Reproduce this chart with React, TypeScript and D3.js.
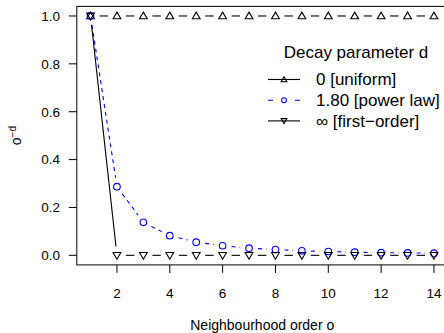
import React, { useEffect, useRef } from 'react';
import * as d3 from 'd3';

// neighbourhood orders o = 1..14
const orders = [1, 2, 3, 4, 5, 6, 7, 8, 9, 10, 11, 12, 13, 14];
// weights o^-d for the three decay settings
const uniformVals = [1, 1, 1, 1, 1, 1, 1, 1, 1, 1, 1, 1, 1, 1];
const powerVals = [1, 0.287, 0.138, 0.082, 0.055, 0.04, 0.03, 0.024, 0.019, 0.016, 0.013, 0.011, 0.01, 0.009];
const firstVals = [1, 0, 0, 0, 0, 0, 0, 0, 0, 0, 0, 0, 0, 0];

const xTicks = [2, 4, 6, 8, 10, 12, 14];
const yTicks = [0, 0.2, 0.4, 0.6, 0.8, 1.0];
const legendLabels = ['0 [uniform]', '1.80 [power law]', '\u221E [first\u2212order]'];

const FONT = '"Liberation Sans", Arial, Helvetica, sans-serif';

const App = () => {
  const ref = useRef<SVGSVGElement>(null);

  useEffect(() => {
    if (!ref.current) return;
    const width = 444;
    const height = 333;
    const svg = d3.select(ref.current);
    svg.selectAll('*').remove();
    svg.attr('width', width).attr('height', height);

    // R style 4% padding on both axes
    const x = d3.scaleLinear().domain([0.48, 14.52]).range([76.8, 447.7]);
    const y = d3.scaleLinear().domain([-0.04, 1.04]).range([264.9, 6.4]);

    const g = svg.append('g');

    // box
    g.append('rect')
      .attr('x', x(0.48)).attr('y', y(1.04))
      .attr('width', x(14.52) - x(0.48)).attr('height', y(-0.04) - y(1.04))
      .attr('fill', 'none').attr('stroke', 'black').attr('stroke-width', 1);

    // x axis
    xTicks.forEach(t => {
      g.append('line')
        .attr('x1', x(t)).attr('x2', x(t))
        .attr('y1', y(-0.04)).attr('y2', y(-0.04) + 8)
        .attr('stroke', 'black');
      g.append('text')
        .attr('x', x(t)).attr('y', 297.5)
        .attr('text-anchor', 'middle')
        .style('font-family', FONT).style('font-size', '13.5px')
        .text(t);
    });

    // y axis
    yTicks.forEach(t => {
      g.append('line')
        .attr('x1', x(0.48) - 8).attr('x2', x(0.48))
        .attr('y1', y(t)).attr('y2', y(t))
        .attr('stroke', 'black');
      g.append('text')
        .attr('x', 60).attr('y', y(t) + 4.8)
        .attr('text-anchor', 'end')
        .style('font-family', FONT).style('font-size', '13.5px')
        .text(t.toFixed(1));
    });

    // axis titles
    g.append('text')
      .attr('x', (x(0.48) + x(14.52)) / 2).attr('y', 330)
      .attr('text-anchor', 'middle')
      .style('font-family', FONT).style('font-size', '14px')
      .text('Neighbourhood order o');

    const yl = g.append('text')
      .attr('transform', `translate(21,${(y(1.04) + y(-0.04)) / 2}) rotate(-90)`)
      .attr('text-anchor', 'middle')
      .style('font-family', FONT).style('font-size', '14px');
    yl.append('tspan').text('o');
    yl.append('tspan').attr('dy', -5).style('font-size', '10px').text('\u2212d');

    // lines with gaps around points (type = "b")
    const gap = 9;
    const drawB = (vals: number[], color: string, dash: string | null) => {
      for (let i = 0; i < orders.length - 1; i++) {
        const x0 = x(orders[i]), y0 = y(vals[i]);
        const x1 = x(orders[i + 1]), y1 = y(vals[i + 1]);
        const len = Math.hypot(x1 - x0, y1 - y0);
        if (len <= 2 * gap) continue;
        const ux = (x1 - x0) / len, uy = (y1 - y0) / len;
        const seg = g.append('line')
          .attr('x1', x0 + ux * gap).attr('y1', y0 + uy * gap)
          .attr('x2', x1 - ux * gap).attr('y2', y1 - uy * gap)
          .attr('stroke', color).attr('stroke-width', 1.1);
        if (dash) seg.attr('stroke-dasharray', dash);
      }
    };

    const drawTri = (sel: any, cx: number, cy: number, down: boolean, size = 26) => {
      sel.append('path')
        .attr('d', d3.symbol().type(d3.symbolTriangle).size(size)())
        .attr('transform', `translate(${cx},${cy + (down ? -0.6 : 0.6)}) rotate(${down ? 180 : 0})`)
        .attr('fill', 'none').attr('stroke', 'black').attr('stroke-width', 1.1);
    };
    const drawCircle = (sel: any, cx: number, cy: number, r = 3.3) => {
      sel.append('circle')
        .attr('cx', cx).attr('cy', cy).attr('r', r)
        .attr('fill', 'none').attr('stroke', '#0000FF').attr('stroke-width', 1.1);
    };

    drawB(uniformVals, 'black', null);
    drawB(powerVals, '#0000FF', '4,4');
    drawB(firstVals, 'black', null);

    orders.forEach((o, i) => drawTri(g, x(o), y(uniformVals[i]), false));
    orders.forEach((o, i) => drawCircle(g, x(o), y(powerVals[i])));
    orders.forEach((o, i) => drawTri(g, x(o), y(firstVals[i]), true));

    // legend
    const lg = svg.append('g');
    lg.append('text')
      .attr('x', 356).attr('y', 58.3)
      .attr('text-anchor', 'middle')
      .style('font-family', FONT).style('font-size', '17px')
      .text('Decay parameter d');

    const rowY = [79.5, 100.2, 120.9];
    legendLabels.forEach((lab, i) => {
      const cy = rowY[i];
      const ln = lg.append('line')
        .attr('x1', 268).attr('x2', 300).attr('y1', cy).attr('y2', cy)
        .attr('stroke', i === 1 ? '#0000FF' : 'black').attr('stroke-width', 1.1);
      if (i === 1) ln.attr('stroke-dasharray', '5,22,5');
      if (i === 0) drawTri(lg, 284, cy, false, 14);
      if (i === 1) drawCircle(lg, 284, cy, 2.4);
      if (i === 2) drawTri(lg, 284, cy, true, 14);
      lg.append('text')
        .attr('x', 316).attr('y', cy + 5.9)
        .style('font-family', FONT).style('font-size', '17px')
        .text(lab);
    });
  }, []);

  return (
    <svg ref={ref} style={{ position: 'fixed', left: 0, top: 0, background: 'white' }} />
  );
};

export default App;
